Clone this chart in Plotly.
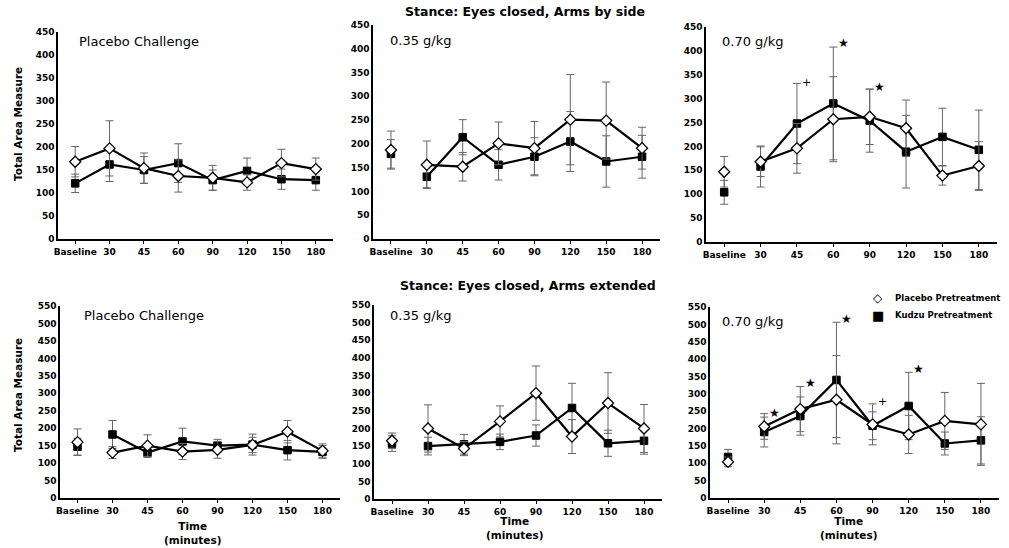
import plotly.graph_objects as go

W, H = 1009, 548
categories = ["Baseline", "30", "45", "60", "90", "120", "150", "180"]

# Top row: Stance: Eyes closed, Arms by side
side_pc_placebo = [168, 197, 154, 137, 133, 123, 165, 152]
side_pc_placebo_err = [33, 60, 33, 35, 27, 17, 30, 24]
side_pc_kudzu = [121, 162, 150, 165, 128, 148, 130, 128]
side_pc_kudzu_err = [20, 37, 29, 42, 22, 28, 22, 22]

side_035_placebo = [187, 156, 152, 201, 191, 251, 249, 191]
side_035_placebo_err = [40, 50, 30, 45, 56, 95, 81, 44]
side_035_kudzu = [179, 131, 214, 156, 173, 205, 163, 173]
side_035_kudzu_err = [30, 23, 37, 32, 40, 63, 54, 45]

side_070_placebo = [147, 168, 196, 257, 262, 238, 139, 159]
side_070_placebo_err = [32, 31, 52, 89, 58, 59, 20, 51]
side_070_kudzu = [104, 158, 248, 290, 254, 189, 220, 193]
side_070_kudzu_err = [25, 43, 84, 118, 66, 76, 60, 83]

# Bottom row: Stance: Eyes closed, Arms extended
ext_pc_placebo = [160, 130, 150, 133, 138, 152, 190, 135]
ext_pc_placebo_err = [38, 17, 31, 23, 24, 22, 32, 20]
ext_pc_kudzu = [147, 182, 130, 162, 150, 153, 137, 132]
ext_pc_kudzu_err = [24, 40, 14, 38, 18, 30, 28, 18]

ext_035_placebo = [165, 200, 143, 220, 300, 177, 272, 200]
ext_035_placebo_err = [22, 67, 20, 44, 77, 48, 86, 68]
ext_035_kudzu = [157, 150, 155, 162, 180, 258, 158, 165]
ext_035_kudzu_err = [22, 25, 28, 22, 30, 70, 37, 38]

ext_070_placebo = [104, 206, 256, 283, 212, 183, 222, 212]
ext_070_placebo_err = [14, 37, 65, 127, 59, 55, 82, 118]
ext_070_kudzu = [118, 190, 236, 340, 208, 265, 157, 166]
ext_070_kudzu_err = [22, 43, 55, 166, 40, 97, 33, 68]

panel_labels = ["Placebo Challenge", "0.35 g/kg", "0.70 g/kg",
                "Placebo Challenge", "0.35 g/kg", "0.70 g/kg"]

# significance markers: (panel, category, value, symbol)
sig_marks = [
    (3, "45", 333, "+"), (3, "60", 417, "★"), (3, "90", 325, "★"),
    (6, "30", 245, "★"), (6, "45", 331, "★"), (6, "60", 515, "★"),
    (6, "90", 278, "+"), (6, "120", 371, "★"),
]

panels = [
    (side_pc_placebo, side_pc_placebo_err, side_pc_kudzu, side_pc_kudzu_err, True),
    (side_035_placebo, side_035_placebo_err, side_035_kudzu, side_035_kudzu_err, False),
    (side_070_placebo, side_070_placebo_err, side_070_kudzu, side_070_kudzu_err, False),
    (ext_pc_placebo, ext_pc_placebo_err, ext_pc_kudzu, ext_pc_kudzu_err, False),
    (ext_035_placebo, ext_035_placebo_err, ext_035_kudzu, ext_035_kudzu_err, False),
    (ext_070_placebo, ext_070_placebo_err, ext_070_kudzu, ext_070_kudzu_err, False),
]

# pixel boxes: (x0, x1, ytop, ybottom)
boxes = [
    (58, 333, 32, 239), (373, 660, 25, 239), (706, 997, 27, 242),
    (60, 340, 306, 498), (374, 662, 305, 499), (710, 999, 307, 498),
]
ymax = [450, 450, 450, 550, 550, 550]
label_pos = [(77, 42), (388, 40), (720, 42), (82, 315), (388, 315), (720, 321)]

FONT = "DejaVu Sans"
ERR_COLOR = "#666666"

fig = go.Figure()


def add_series(i, y, err, connect_baseline, placebo):
    ax = "" if i == 1 else str(i)
    marker = dict(symbol="diamond", size=8.5, color="white",
                  line=dict(color="black", width=1.3)) if placebo else \
        dict(symbol="square", size=7.5, color="black",
             line=dict(color="black", width=1))
    ebar = dict(type="data", array=err, visible=True, color=ERR_COLOR,
                thickness=1, width=4)
    if connect_baseline:
        fig.add_trace(go.Scatter(x=categories, y=y, error_y=ebar,
                                 mode="lines+markers", marker=marker,
                                 line=dict(color="black", width=2.2),
                                 xaxis="x" + ax, yaxis="y" + ax,
                                 showlegend=False, cliponaxis=False))
    else:
        fig.add_trace(go.Scatter(x=categories[:1], y=y[:1],
                                 error_y=dict(ebar, array=err[:1]),
                                 mode="markers", marker=marker,
                                 xaxis="x" + ax, yaxis="y" + ax,
                                 showlegend=False, cliponaxis=False))
        fig.add_trace(go.Scatter(x=categories[1:], y=y[1:],
                                 error_y=dict(ebar, array=err[1:]),
                                 mode="lines+markers", marker=marker,
                                 line=dict(color="black", width=2.2),
                                 xaxis="x" + ax, yaxis="y" + ax,
                                 showlegend=False, cliponaxis=False))


for i, (pl, ple, kz, kze, conn) in enumerate(panels, start=1):
    add_series(i, kz, kze, conn, False)
    add_series(i, pl, ple, conn, True)

layout = dict(
    width=W, height=H, margin=dict(l=0, r=0, t=0, b=0, pad=0),
    autosize=False,
    paper_bgcolor="white", plot_bgcolor="rgba(0,0,0,0)", showlegend=False,
    font=dict(family=FONT, color="black"),
)
annotations = []


def ann(text, x, y, size, xanchor="center", yanchor="middle", **kw):
    annotations.append(dict(text=text, xref="paper", yref="paper",
                            x=x / W, y=1 - y / H, xanchor=xanchor,
                            yanchor=yanchor, showarrow=False,
                            font=dict(family=FONT, size=size, color="black"),
                            **kw))


for i, (x0, x1, yt, yb) in enumerate(boxes, start=1):
    ax = "" if i == 1 else str(i)
    layout["xaxis" + ax] = dict(
        domain=[x0 / W, x1 / W], anchor="y" + ax, type="category",
        categoryorder="array", categoryarray=categories,
        range=[-0.5, 7.5], showline=True, linecolor="black", linewidth=1.5,
        ticks="outside", ticklen=3, tickcolor="black", tickwidth=1,
        showgrid=False, zeroline=False, automargin=False,
        tickfont=dict(family=FONT, size=9, color="black", weight="bold"),
        fixedrange=True)
    layout["yaxis" + ax] = dict(
        domain=[1 - yb / H, 1 - yt / H], anchor="x" + ax,
        range=[0, ymax[i - 1]], dtick=50, showline=True, linecolor="black",
        linewidth=1.5, ticks="", showgrid=False, zeroline=False,
        automargin=False,
        tickfont=dict(family=FONT, size=9, color="black", weight="bold"),
        fixedrange=True)
    lx, ly = label_pos[i - 1]
    ann(panel_labels[i - 1], lx, ly, 13, xanchor="left")

for (p, cat, val, sym) in sig_marks:
    ax = "" if p == 1 else str(p)
    annotations.append(dict(
        text=sym, x=categories.index(cat), y=val, xref="x" + ax, yref="y" + ax,
        xshift=10, showarrow=False, xanchor="center", yanchor="middle",
        font=dict(family=FONT, size=12 if sym == "★" else 11, color="#000000")))

# section titles
ann("<b>Stance: Eyes closed, Arms by side</b>", 525, 12, 12.5)
ann("<b>Stance: Eyes closed, Arms extended</b>", 528, 285, 12.5)
# y titles
ann("<b>Total Area Measure</b>", 18, 124, 10.5, textangle=-90)
ann("<b>Total Area Measure</b>", 18, 395, 10.5, textangle=-90)
# x titles
for xc, yc in ((192, 533), (514, 528), (848, 528)):
    ann("<b>Time</b><br><b>(minutes)</b>", xc, yc, 10.5)
# legend
ann("◇", 878, 298, 12)
ann("■", 878, 315, 13)
ann("<b>Placebo Pretreatment</b>", 893, 298, 8.5, xanchor="left")
ann("<b>Kudzu Pretreatment</b>", 893, 315, 8.5, xanchor="left")

layout["annotations"] = annotations
fig.update_layout(**layout)

fig.write_html("out.html", config={"displayModeBar": False},
               post_script="document.body.style.margin='0';")
